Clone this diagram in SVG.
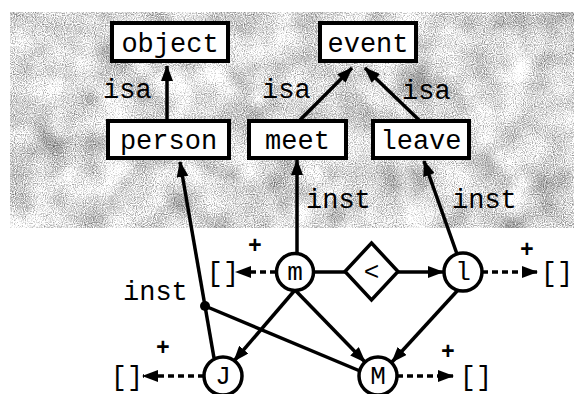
<svg xmlns="http://www.w3.org/2000/svg" width="574" height="394" viewBox="0 0 574 394">
<style>
text{font-family:"Liberation Mono","Courier New",monospace;fill:#000}
.lbl{font-size:27px}
.box rect{fill:#fff;stroke:#000;stroke-width:4}
.box text{font-size:27px;text-anchor:middle}
.cir circle{fill:#fff;stroke:#000;stroke-width:3.5}
.cir text{font-size:26px;text-anchor:middle}
.ln{stroke:#000;stroke-width:3.5;fill:none}
.dash{stroke-dasharray:6 4}
.arr{marker-end:url(#ah)}
.br{font-size:27px;text-anchor:middle}
.plus{font-size:23px;font-weight:bold;text-anchor:middle}
</style>
<defs>
<marker id="ah" markerUnits="userSpaceOnUse" markerWidth="16" markerHeight="12" refX="15" refY="6" orient="auto">
<path d="M0,0 L16,6 L0,12 Z" fill="#000"/>
</marker>
<filter id="grain" x="0" y="0" width="1" height="1" color-interpolation-filters="sRGB">
<feTurbulence type="fractalNoise" baseFrequency="0.9" numOctaves="1" seed="4" result="fine"/>
<feTurbulence type="fractalNoise" baseFrequency="0.03" numOctaves="2" seed="9" result="coarse"/>
<feComposite in="fine" in2="coarse" operator="arithmetic" k1="0" k2="0.8" k3="0.4" k4="0" result="mix"/>
<feColorMatrix in="mix" type="matrix" values="1.6 0 0 0 0.05  1.6 0 0 0 0.05  1.6 0 0 0 0.05  0 0 0 0 1"/>
</filter>
</defs>
<rect id="background" x="10" y="12" width="564" height="216" fill="#d0d0d0" filter="url(#grain)"/>

<g id="connectors">
<line class="ln arr" x1="167" y1="120" x2="167" y2="66"/>
<line class="ln arr" x1="300" y1="120" x2="352" y2="68"/>
<line class="ln arr" x1="419" y1="120" x2="365" y2="68"/>
<line class="ln arr" x1="297" y1="253" x2="297" y2="160"/>
<line class="ln arr" x1="457" y1="254" x2="424" y2="161"/>
<polyline class="ln" points="214,358 205,306"/>
<line class="ln arr" x1="205" y1="306" x2="180" y2="162"/>
<line class="ln" x1="205" y1="306" x2="360" y2="371"/>
<line class="ln arr" x1="295" y1="290" x2="234" y2="361"/>
<line class="ln arr" x1="295" y1="290" x2="365" y2="362"/>
<line class="ln arr" x1="458" y1="290" x2="392" y2="362"/>
<line class="ln" x1="314" y1="272" x2="345" y2="272"/>
<line class="ln arr" x1="398" y1="272" x2="443" y2="272"/>
<line class="ln dash arr" x1="276" y1="272" x2="236" y2="272"/>
<line class="ln dash arr" x1="482" y1="272" x2="537" y2="272"/>
<line class="ln dash arr" x1="204" y1="376" x2="143" y2="376"/>
<line class="ln dash arr" x1="397" y1="376" x2="453" y2="376"/>
<circle cx="205" cy="306" r="5" fill="#000"/>
<text class="lbl" x="103" y="98">isa</text>
<text class="lbl" x="262" y="98">isa</text>
<text class="lbl" x="402" y="99">isa</text>
<text class="lbl" x="306" y="208">inst</text>
<text class="lbl" x="452" y="208">inst</text>
<text class="lbl" x="123" y="300">inst</text>
<text class="plus" x="255" y="253">+</text>
<text class="plus" x="527" y="257">+</text>
<text class="plus" x="163" y="355">+</text>
<text class="plus" x="448" y="359">+</text>
<text class="br" x="223" y="281">[]</text>
<text class="br" x="557" y="281">[]</text>
<text class="br" x="127" y="385">[]</text>
<text class="br" x="476" y="385">[]</text>
</g>

<g id="object" class="box"><rect x="112" y="23" width="116" height="38"/><text x="170" y="52">object</text></g>
<g id="event" class="box"><rect x="320" y="23" width="96" height="38"/><text x="368" y="52">event</text></g>
<g id="person" class="box"><rect x="108" y="121" width="121" height="37"/><text x="168.5" y="149">person</text></g>
<g id="meet" class="box"><rect x="249" y="121" width="97" height="37"/><text x="297.5" y="149">meet</text></g>
<g id="leave" class="box"><rect x="373" y="121" width="96" height="37"/><text x="421" y="149">leave</text></g>

<g id="m" class="cir"><circle cx="295" cy="272" r="18.5"/><text x="295" y="280">m</text></g>
<g id="lt" class="cir"><polygon points="371.5,243 398,271.5 371.5,300 345,271.5" fill="#fff" stroke="#000" stroke-width="3.5"/><text x="371.5" y="280">&lt;</text></g>
<g id="l" class="cir"><circle cx="463" cy="272" r="19"/><text x="463" y="280">l</text></g>
<g id="J" class="cir"><circle cx="223" cy="376" r="19"/><text x="223" y="384">J</text></g>
<g id="M" class="cir"><circle cx="378" cy="376" r="19"/><text x="378" y="384">M</text></g>
</svg>
